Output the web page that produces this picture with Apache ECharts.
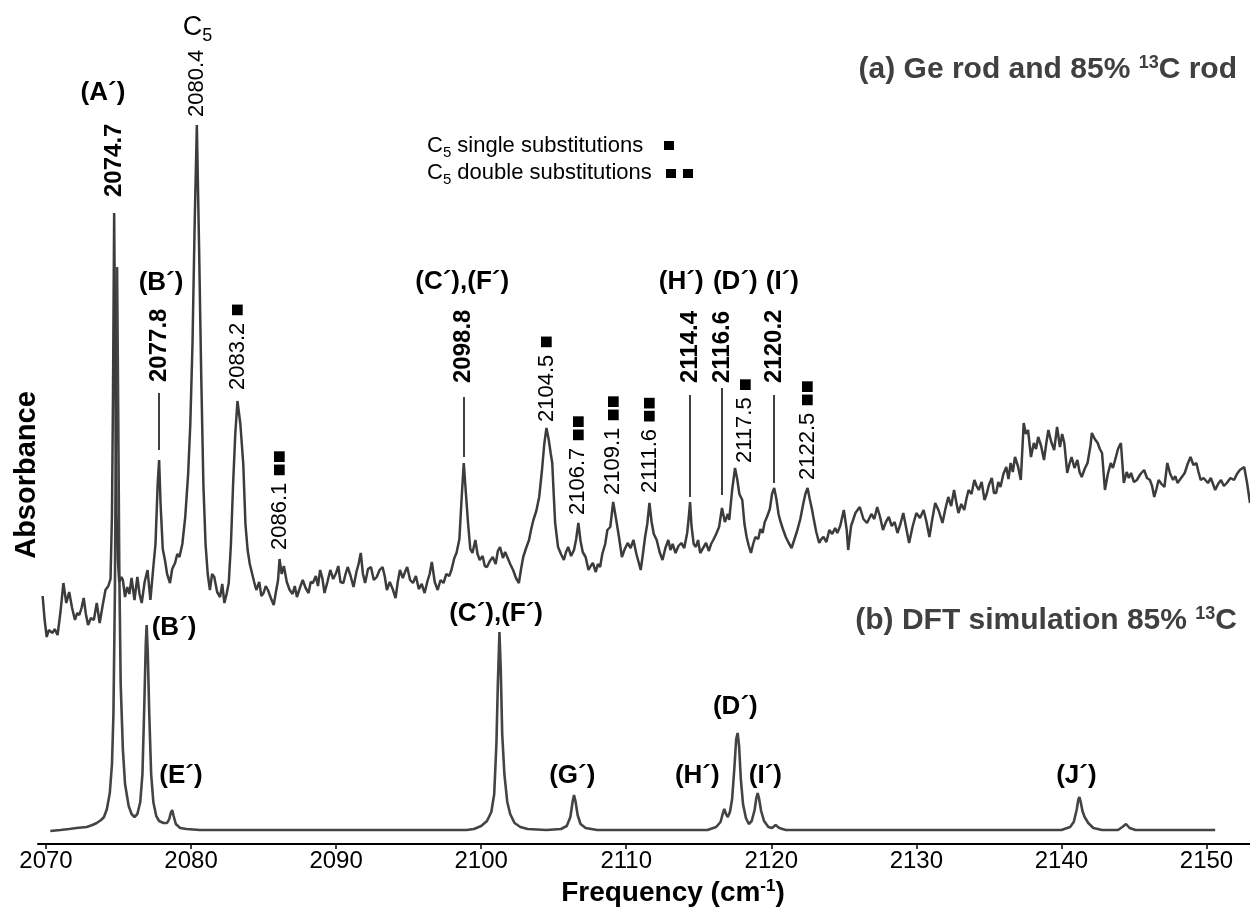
<!DOCTYPE html>
<html>
<head>
<meta charset="utf-8">
<script src="https://cdn.jsdelivr.net/npm/echarts@6/dist/echarts.min.js"></script>
<style>
  html, body { margin: 0; padding: 0; background: #fff; }
  #chart { width: 1250px; height: 909px; }
</style>
</head>
<body>
<div id="chart"></div>
<script>
// ---- Data (absorbance in milli-units, frequency in cm-1) ----

// (a) measured spectrum: Ge rod + 85% 13C rod
const expSpectrum = [
  [2069.77,248],[2069.9,225],[2070.05,207],[2070.2,214],[2070.3,216],[2070.45,211],[2070.6,215],[2070.8,209],
  [2071.0,232],[2071.2,261],[2071.4,241],[2071.6,252],[2071.8,236],[2072.0,224],[2072.15,231],[2072.3,229],
  [2072.45,236],[2072.6,246],[2072.75,230],[2072.9,219],[2073.1,226],[2073.3,224],[2073.5,241],[2073.7,221],
  [2073.9,238],[2074.1,254],[2074.3,258],[2074.45,265],[2074.55,330],[2074.62,450],[2074.7,631],[2074.78,470],
  [2074.86,330],[2074.95,285],[2075.05,262],[2075.2,267],[2075.3,264],[2075.45,247],[2075.6,257],[2075.75,250],
  [2075.9,266],[2076.1,244],[2076.3,267],[2076.45,250],[2076.6,241],[2076.8,262],[2077.0,274],[2077.2,244],
  [2077.4,277],[2077.55,300],[2077.7,360],[2077.8,384],[2077.9,340],[2078.05,295],[2078.2,284],[2078.35,270],
  [2078.55,261],[2078.7,275],[2078.9,281],[2079.05,290],[2079.2,287],[2079.4,300],[2079.6,327],[2079.8,370],
  [2079.95,420],[2080.1,500],[2080.25,620],[2080.4,719],[2080.55,600],[2080.7,470],[2080.85,360],[2081.0,300],
  [2081.15,270],[2081.3,254],[2081.45,270],[2081.6,267],[2081.8,252],[2082.0,247],[2082.15,260],[2082.3,241],
  [2082.45,250],[2082.6,261],[2082.75,300],[2082.9,360],[2083.05,410],[2083.2,443],[2083.4,420],[2083.6,380],
  [2083.75,320],[2083.9,294],[2084.05,280],[2084.2,271],[2084.35,262],[2084.5,254],[2084.7,262],[2084.85,248],
  [2085.0,251],[2085.15,258],[2085.3,254],[2085.5,246],[2085.7,239],[2085.85,252],[2086.0,264],[2086.1,285],
  [2086.25,270],[2086.4,278],[2086.6,262],[2086.8,254],[2087.0,250],[2087.15,258],[2087.3,247],[2087.5,256],
  [2087.7,264],[2087.9,256],[2088.1,251],[2088.25,262],[2088.4,261],[2088.6,268],[2088.75,258],[2088.9,274],
  [2089.05,266],[2089.2,251],[2089.4,262],[2089.6,274],[2089.8,265],[2090.0,271],[2090.15,278],[2090.3,262],
  [2090.5,261],[2090.65,270],[2090.8,277],[2091.0,268],[2091.2,257],[2091.4,272],[2091.55,280],[2091.7,291],
  [2091.85,270],[2092.0,261],[2092.2,275],[2092.4,277],[2092.6,264],[2092.8,267],[2093.0,274],[2093.2,277],
  [2093.35,268],[2093.5,254],[2093.7,262],[2093.9,255],[2094.1,246],[2094.25,262],[2094.4,274],[2094.6,266],
  [2094.75,272],[2094.9,277],[2095.1,264],[2095.3,261],[2095.5,268],[2095.7,255],[2095.9,260],[2096.1,251],
  [2096.3,263],[2096.45,270],[2096.6,282],[2096.8,262],[2097.0,254],[2097.2,264],[2097.4,261],[2097.6,270],
  [2097.8,268],[2097.95,274],[2098.15,286],[2098.3,291],[2098.5,305],[2098.65,345],[2098.8,381],[2098.95,350],
  [2099.1,320],[2099.25,295],[2099.4,291],[2099.6,304],[2099.75,290],[2099.9,284],[2100.1,288],[2100.25,278],
  [2100.4,277],[2100.6,283],[2100.8,287],[2101.0,280],[2101.15,293],[2101.3,297],[2101.5,286],[2101.65,292],
  [2101.8,287],[2102.0,280],[2102.2,274],[2102.4,266],[2102.6,261],[2102.75,275],[2102.9,287],[2103.1,296],
  [2103.3,304],[2103.45,315],[2103.6,324],[2103.8,333],[2104.0,347],[2104.2,375],[2104.35,400],[2104.5,416],
  [2104.65,405],[2104.8,390],[2104.9,381],[2105.0,350],[2105.1,321],[2105.3,297],[2105.5,290],[2105.7,284],
  [2105.85,292],[2106.0,297],[2106.2,288],[2106.4,294],[2106.55,305],[2106.7,321],[2106.85,303],[2107.0,292],
  [2107.2,287],[2107.4,274],[2107.55,278],[2107.7,281],[2107.9,272],[2108.05,280],[2108.2,277],[2108.35,290],
  [2108.55,300],[2108.7,314],[2108.9,317],[2109.1,342],[2109.3,325],[2109.5,307],[2109.7,287],[2109.9,295],
  [2110.1,301],[2110.3,296],[2110.5,304],[2110.7,290],[2110.85,282],[2111.0,274],[2111.15,290],[2111.3,307],
  [2111.45,320],[2111.6,341],[2111.75,322],[2111.9,310],[2112.1,304],[2112.3,292],[2112.5,284],[2112.7,296],
  [2112.9,304],[2113.05,294],[2113.2,300],[2113.4,291],[2113.6,298],[2113.8,301],[2114.0,296],[2114.2,311],
  [2114.3,325],[2114.4,342],[2114.5,318],[2114.65,300],[2114.8,297],[2114.95,304],[2115.1,291],[2115.3,296],
  [2115.5,301],[2115.7,293],[2115.85,300],[2116.0,304],[2116.2,310],[2116.4,317],[2116.6,336],[2116.8,322],
  [2117.0,330],[2117.1,324],[2117.3,354],[2117.5,376],[2117.65,365],[2117.8,350],[2118.0,344],[2118.15,320],
  [2118.3,307],[2118.45,298],[2118.6,291],[2118.75,300],[2118.9,307],[2119.1,305],[2119.25,315],[2119.4,311],
  [2119.55,322],[2119.7,327],[2119.9,335],[2120.05,350],[2120.2,356],[2120.35,345],[2120.5,330],[2120.6,324],
  [2120.8,315],[2121.0,307],[2121.2,301],[2121.4,296],[2121.6,305],[2121.8,314],[2122.0,325],[2122.2,340],
  [2122.35,350],[2122.5,356],[2122.65,345],[2122.8,335],[2122.9,327],[2123.1,312],[2123.3,301],[2123.45,305],
  [2123.6,307],[2123.8,302],[2124.0,314],[2124.2,310],[2124.4,316],[2124.55,311],[2124.75,318],[2125.0,334],
  [2125.2,314],[2125.3,294],[2125.5,318],[2125.8,331],[2126.1,337],[2126.35,325],[2126.6,321],[2126.9,330],
  [2127.1,325],[2127.3,337],[2127.5,327],[2127.7,314],[2127.9,322],[2128.1,327],[2128.3,318],[2128.5,322],
  [2128.7,311],[2128.9,320],[2129.1,331],[2129.3,316],[2129.5,301],[2129.75,318],[2130.0,331],[2130.25,326],
  [2130.5,334],[2130.7,322],[2130.9,307],[2131.1,325],[2131.3,341],[2131.55,333],[2131.8,321],[2132.0,335],
  [2132.2,347],[2132.4,338],[2132.6,354],[2132.75,342],[2132.9,331],[2133.1,340],[2133.3,334],[2133.45,345],
  [2133.6,354],[2133.8,350],[2134.0,364],[2134.15,358],[2134.3,354],[2134.5,362],[2134.7,344],[2134.85,350],
  [2135.0,359],[2135.2,366],[2135.35,351],[2135.5,351],[2135.65,362],[2135.8,357],[2136.0,370],[2136.2,377],
  [2136.35,365],[2136.5,381],[2136.65,372],[2136.8,387],[2137.0,378],[2137.2,364],[2137.4,421],[2137.55,410],
  [2137.7,414],[2137.9,387],[2138.1,401],[2138.25,395],[2138.4,407],[2138.6,398],[2138.8,384],[2138.95,400],
  [2139.1,414],[2139.3,402],[2139.5,394],[2139.7,417],[2139.9,397],[2140.05,410],[2140.2,401],[2140.4,371],
  [2140.55,380],[2140.7,387],[2140.9,376],[2141.1,384],[2141.25,372],[2141.4,367],[2141.6,375],[2141.8,381],
  [2142.0,398],[2142.1,411],[2142.3,405],[2142.5,401],[2142.65,395],[2142.8,391],[2143.0,354],[2143.2,370],
  [2143.4,381],[2143.55,376],[2143.7,384],[2143.9,395],[2144.1,401],[2144.3,361],[2144.5,372],[2144.65,366],
  [2144.8,371],[2145.0,362],[2145.2,364],[2145.45,370],[2145.7,374],[2145.9,366],[2146.1,364],[2146.25,358],
  [2146.4,347],[2146.55,355],[2146.7,364],[2146.9,360],[2147.1,357],[2147.3,381],[2147.5,370],[2147.7,364],
  [2147.85,368],[2148.0,361],[2148.25,366],[2148.5,371],[2148.7,380],[2148.9,387],[2149.1,379],[2149.3,381],
  [2149.45,372],[2149.6,364],[2149.8,366],[2150.1,361],[2150.3,366],[2150.6,354],[2150.8,360],[2151.0,364],
  [2151.2,358],[2151.4,361],[2151.65,366],[2151.9,364],[2152.1,370],[2152.3,374],[2152.6,377],[2152.8,361],
  [2153.0,341]
];

// (b) DFT simulated spectrum, 85% 13C
const dftSpectrum = [
  [2070.3,13],[2071.0,14],[2071.6,15],[2072.1,16],[2072.8,17],[2073.2,19],[2073.5,21],[2073.8,24],
  [2074.0,27],[2074.2,35],[2074.4,51],[2074.55,80],[2074.65,130],[2074.75,250],[2074.82,420],[2074.9,577],
  [2074.98,430],[2075.05,280],[2075.15,160],[2075.3,95],[2075.45,60],[2075.7,38],[2075.9,30],[2076.1,27],
  [2076.3,30],[2076.5,42],[2076.65,70],[2076.78,140],[2076.88,200],[2076.94,219],[2077.02,190],[2077.12,130],
  [2077.25,70],[2077.4,42],[2077.6,28],[2077.8,23],[2078.1,21],[2078.35,21],[2078.5,25],[2078.6,31],
  [2078.7,34],[2078.8,28],[2078.95,20],[2079.25,16],[2079.7,15],[2080.6,14],[2099.0,14],[2099.5,15],
  [2100.0,18],[2100.4,23],[2100.7,32],[2100.9,50],[2101.05,100],[2101.15,160],[2101.26,212],[2101.35,175],
  [2101.45,110],[2101.6,70],[2101.8,42],[2102.0,30],[2102.3,21],[2102.7,17],[2103.2,15],[2104.5,14],
  [2105.5,15],[2105.9,18],[2106.15,27],[2106.3,42],[2106.4,49],[2106.5,43],[2106.65,29],[2106.85,20],
  [2107.2,16],[2108.0,14],[2115.6,14],[2116.2,17],[2116.5,22],[2116.65,30],[2116.76,35],[2116.88,30],
  [2117.0,27],[2117.15,32],[2117.3,45],[2117.45,75],[2117.58,105],[2117.68,111],[2117.78,98],[2117.9,65],
  [2118.05,40],[2118.25,26],[2118.45,20],[2118.65,23],[2118.85,34],[2118.97,46],[2119.06,51],[2119.15,46],
  [2119.3,33],[2119.5,23],[2119.8,17],[2120.05,16],[2120.3,19],[2120.55,16],[2121.0,14],[2140.0,14],
  [2140.6,17],[2140.85,22],[2141.05,34],[2141.16,44],[2141.24,47],[2141.33,42],[2141.45,33],[2141.6,27],
  [2141.85,21],[2142.2,16],[2142.8,14],[2143.9,14],[2144.2,17],[2144.45,20],[2144.7,16],[2145.1,14],
  [2150.6,14]
];

// x-axis tick values
const freqTicks = [2070, 2080, 2090, 2100, 2110, 2120, 2130, 2140, 2150];

// Observed band positions in (a); assigned = bold with connector,
// marks = C5 single (1) / double (2) 13C substitutions
const peakFreq     = [2074.7, 2077.8, 2080.4, 2083.2, 2086.1, 2098.8, 2104.5, 2106.7, 2109.1, 2111.6, 2114.4, 2116.6, 2117.5, 2120.2, 2122.5];
const peakAssigned = [true,   true,   false,  false,  false,  true,   false,  false,  false,  false,  true,   true,   false,  true,   false];
const peakSubst    = [0,      0,      0,      1,      2,      0,      1,      2,      2,      2,      0,      0,      1,      0,      2];

// Band assignment letters
const expBandNames = ["(A\u00B4)", "(B\u00B4)", "(C\u00B4),(F\u00B4)", "(H\u00B4)", "(D\u00B4)", "(I\u00B4)"];
const dftBandNames = ["(B\u00B4)", "(E\u00B4)", "(C\u00B4),(F\u00B4)", "(G\u00B4)", "(H\u00B4)", "(D\u00B4)", "(I\u00B4)", "(J\u00B4)"];

// ---- Layout (label anchors in data coordinates) ----
// rotated value labels: start of text (freq, abs), optional freq shift
const peakLabelLayout = [
  {base: 647}, {base: 462, line: [451, 394]}, {base: 727}, {base: 454}, {base: 294},
  {base: 461, line: [447, 387]}, {base: 422}, {base: 329}, {base: 349}, {base: 351},
  {base: 461, line: [449, 347]}, {base: 461, line: [456, 349]}, {base: 381, x: 2118.2},
  {base: 461, line: [449, 361]}, {base: 364}
];
const parentLabelAnchor = [2080.45, 816];
const expBandLayout = [[2073.93, 751], [2077.93, 561], [2098.69, 562], [2113.79, 562], [2117.52, 562], [2120.76, 562]];
const dftBandLayout = [[2078.83, 216], [2079.31, 68], [2101.03, 230], [2106.28, 68], [2114.9, 68], [2117.52, 137], [2119.59, 68], [2141.03, 68]];

const FONT = "'Liberation Sans', Arial, Helvetica, sans-serif";
const SQ_FONT = "'DejaVu Sans', sans-serif";

function tok(size, weight, padding, extra) {
  return Object.assign({fontSize: size, fontWeight: weight, fontFamily: FONT, padding: padding || 0, fill: '#000', color: '#000'}, extra || {});
}

const connectorLines = [];
peakFreq.forEach((f, i) => {
  const lay = peakLabelLayout[i];
  if (peakAssigned[i] && lay.line) {
    connectorLines.push([{coord: [f, lay.line[0]]}, {coord: [f, lay.line[1]]}]);
  }
});

const chart = echarts.init(document.getElementById('chart'), null, {renderer: 'canvas'});

const option = {
  animation: false,
  backgroundColor: '#fff',
  grid: {left: 38, right: 0, top: 44, bottom: 65, containLabel: false, outerBoundsMode: 'none'},
  xAxis: {
    type: 'value',
    min: 2069.45,
    max: 2153,
    axisLine: {show: true, onZero: false, lineStyle: {color: '#000', width: 2}},
    axisTick: {show: true, customValues: freqTicks, length: 5, inside: false, lineStyle: {color: '#000', width: 1.5}},
    axisLabel: {
      show: true, customValues: freqTicks, fontSize: 24, color: '#000', fontFamily: FONT, margin: 5,
      formatter: v => String(v)
    },
    splitLine: {show: false},
    name: 'Frequency (cm{sup|-1})',
    nameLocation: 'middle',
    nameGap: 33,
    nameTextStyle: {
      fontSize: 28, fontWeight: 'bold', color: '#000', fontFamily: FONT,
      padding: [0, 0, 0, 58],
      rich: {sup: {fontSize: 17, fontWeight: 'bold', color: '#000', fontFamily: FONT, padding: [0, 0, 14, 0]}}
    }
  },
  yAxis: {
    type: 'value', min: 0, max: 800, show: false,
    splitLine: {show: false}
  },
  series: [
    {
      name: 'DFT simulation 85% 13C',
      type: 'line',
      data: dftSpectrum,
      showSymbol: false,
      symbol: 'none',
      smooth: false,
      lineStyle: {color: '#444444', width: 2.6},
      silent: true
    },
    {
      name: 'Ge rod and 85% 13C rod',
      type: 'line',
      data: expSpectrum,
      showSymbol: false,
      symbol: 'none',
      smooth: false,
      lineStyle: {color: '#3c3c3c', width: 2.5},
      silent: true,
      markLine: {
        silent: true,
        symbol: ['none', 'none'],
        label: {show: false},
        lineStyle: {color: '#000', width: 1.5, type: 'solid'},
        data: connectorLines
      }
    }
  ]
};

chart.setOption(option);

// ---- Annotations placed through the axes' scales ----
const toPx = (f, v) => chart.convertToPixel({gridIndex: 0}, [f, v]);
const graphics = [];

// rotated peak values with substitution markers
peakFreq.forEach((f, i) => {
  const lay = peakLabelLayout[i];
  const p = toPx(lay.x !== undefined ? lay.x : f, lay.base);
  const bold = peakAssigned[i];
  const marks = peakSubst[i] === 1 ? ' {sq|\u25A0}' : peakSubst[i] === 2 ? ' {sq|\u25A0\u25A0}' : '';
  graphics.push({
    type: 'text', x: p[0], y: p[1], rotation: Math.PI / 2, silent: true,
    style: {
      text: '{v|' + f.toFixed(1) + '}' + marks,
      align: 'left', verticalAlign: 'middle', fill: '#000',
      fontSize: bold ? 24 : 22, fontWeight: bold ? 'bold' : 'normal', fontFamily: FONT,
      rich: {
        v: tok(bold ? 24 : 22, bold ? 'bold' : 'normal'),
        sq: {fontSize: 14, fontFamily: SQ_FONT, fill: '#000'}
      }
    }
  });
});

// C5 parent band label above 2080.4
(function () {
  const p = toPx(parentLabelAnchor[0], parentLabelAnchor[1]);
  graphics.push({
    type: 'text', x: p[0], y: p[1], silent: true,
    style: {
      text: '{c|C}{s|5}', align: 'center', verticalAlign: 'middle',
      rich: {c: tok(27, 'normal'), s: tok(18, 'normal', [16, 0, 0, 0])}
    }
  });
})();

// band letters for (a)
expBandNames.forEach((t, i) => {
  const p = toPx(expBandLayout[i][0], expBandLayout[i][1]);
  graphics.push({
    type: 'text', x: p[0], y: p[1], silent: true,
    style: {text: t, align: 'center', verticalAlign: 'middle', fill: '#000', fontSize: 26, fontWeight: 'bold', fontFamily: FONT}
  });
});

// band letters for (b)
dftBandNames.forEach((t, i) => {
  const p = toPx(dftBandLayout[i][0], dftBandLayout[i][1]);
  graphics.push({
    type: 'text', x: p[0], y: p[1], silent: true,
    style: {text: t, align: 'center', verticalAlign: 'middle', fill: '#000', fontSize: 26, fontWeight: 'bold', fontFamily: FONT}
  });
});

// panel titles
graphics.push({
  type: 'text', x: 1237, y: 70, silent: true,
  style: {
    text: '{t|(a) Ge rod and 85% }{u|13}{t|C rod}', align: 'right', verticalAlign: 'middle',
    rich: {t: tok(30, 'bold', 0, {fill: '#404040', color: '#404040'}), u: tok(18, 'bold', [0, 0, 14, 0], {fill: '#404040', color: '#404040'})}
  }
});
graphics.push({
  type: 'text', x: 1237, y: 621, silent: true,
  style: {
    text: '{t|(b) DFT simulation 85% }{u|13}{t|C}', align: 'right', verticalAlign: 'middle',
    rich: {t: tok(30, 'bold', 0, {fill: '#404040', color: '#404040'}), u: tok(18, 'bold', [0, 0, 14, 0], {fill: '#404040', color: '#404040'})}
  }
});

// substitution key
graphics.push({
  type: 'text', x: 427, y: 146, silent: true,
  style: {
    text: '{t|C}{s|5}{t| single substitutions}', align: 'left', verticalAlign: 'middle',
    rich: {t: tok(22, 'normal'), s: tok(15, 'normal', [14, 0, 0, 0])}
  }
});
graphics.push({
  type: 'text', x: 427, y: 173, silent: true,
  style: {
    text: '{t|C}{s|5}{t| double substitutions}', align: 'left', verticalAlign: 'middle',
    rich: {t: tok(22, 'normal'), s: tok(15, 'normal', [14, 0, 0, 0])}
  }
});
graphics.push({type: 'rect', silent: true, shape: {x: 664, y: 141, width: 10, height: 9}, style: {fill: '#000'}});
graphics.push({type: 'rect', silent: true, shape: {x: 666, y: 169, width: 10, height: 9}, style: {fill: '#000'}});
graphics.push({type: 'rect', silent: true, shape: {x: 683, y: 169, width: 10, height: 9}, style: {fill: '#000'}});

// y-axis title
graphics.push({
  type: 'text', x: 27, y: 475, rotation: Math.PI / 2, silent: true,
  style: {text: 'Absorbance', align: 'center', verticalAlign: 'middle', fill: '#000', fontSize: 29, fontWeight: 'bold', fontFamily: FONT}
});

chart.setOption({graphic: graphics});
</script>
</body>
</html>
